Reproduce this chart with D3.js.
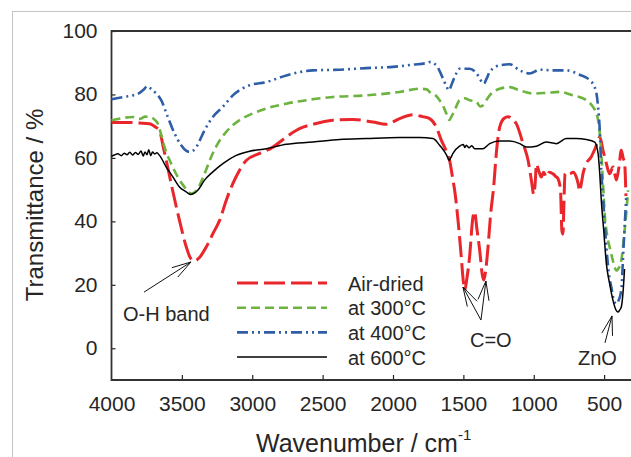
<!DOCTYPE html>
<html><head><meta charset="utf-8">
<script src="https://cdn.jsdelivr.net/npm/d3@7"></script>
<style>
html,body{margin:0;padding:0;background:#fff;}
svg{display:block;font-family:"Liberation Sans",Arial,sans-serif;}
</style></head>
<body>
<svg id="chart" width="631" height="457"></svg>
<script>
// ---- data: [wavenumber (cm-1), transmittance (%)] ----
const airDried = [[4000,71.2],[3900,71.2],[3800,71.0],[3730,70.8],[3690,69.8],[3659,68.5],[3630,63],[3611,59.2],[3566,49.8],[3517,40.3],[3469,32],[3440,28.5],[3410,27.5],[3375,28.6],[3327,31.9],[3280,36.1],[3232,40.3],[3185,46.6],[3138,51.9],[3090,56.1],[3043,59.2],[2948,61.4],[2853,63.4],[2758,66.6],[2664,69.2],[2569,70.6],[2427,71.9],[2285,72.1],[2143,71.3],[2048,70.6],[1953,72.4],[1858,73.6],[1790,73.0],[1740,72.4],[1692,69.7],[1657,65.6],[1620,62],[1598,59.2],[1574,53],[1562,49.8],[1538,40.3],[1515,28.8],[1500,21],[1490,18.5],[1475,22],[1456,28.8],[1432,41.4],[1420,43],[1405,38],[1384,30.9],[1365,23],[1355,21.5],[1340,25],[1325,31.9],[1306,42.4],[1285,50.8],[1266,61.4],[1242,69.7],[1210,72.5],[1183,73],[1150,72.2],[1124,70.8],[1076,64.5],[1040,59.2],[1017,53],[1000,48.5],[990,52],[981,58],[965,56],[946,54],[930,55.5],[911,54],[890,55.5],[864,55],[840,54],[828,53.5],[810,50],[800,37],[792,36],[786,45],[778,55],[760,55.5],[745,55],[720,55.5],[698,54],[685,52],[674,49.5],[662,52],[650,55],[627,58.2],[592,60.3],[560,63.4],[531,66.6],[508,62.4],[484,58.2],[461,55],[437,57.1],[413,53],[395,57],[378,62.4],[365,60],[354,58.2],[345,48]];
const at300 = [[4000,71.9],[3930,72.5],[3851,72.9],[3800,72.3],[3760,73],[3730,72.9],[3700,72.3],[3671,70.8],[3645,67],[3623,63.4],[3576,58.2],[3529,54],[3481,50.8],[3450,49.2],[3434,48.8],[3410,49.2],[3387,50.3],[3339,55],[3292,60.3],[3245,64.5],[3185,68.2],[3090,71.9],[2996,74],[2900,75.6],[2758,77.1],[2616,78.2],[2427,79.2],[2190,79.7],[1953,80.8],[1811,81.8],[1760,81.6],[1740,80.8],[1700,79.8],[1669,78.2],[1640,76],[1621,74],[1600,72],[1585,73],[1562,75],[1527,78.2],[1490,78.8],[1456,78.2],[1408,77.7],[1380,76.2],[1361,76.6],[1340,78],[1313,79.7],[1242,81.8],[1171,82.3],[1100,81.3],[1005,80.3],[911,80.5],[816,80.8],[721,79.7],[627,78.2],[579,76.1],[555,74],[543,71.9],[531,67.7],[520,61.4],[508,52],[496,42.4],[480,36],[461,31.9],[440,28],[425,25.5],[413,24.5],[400,25],[378,27.7],[354,37.2],[340,44],[330,49.8]];
const at400 = [[4000,78.5],[3900,79.3],[3848,79.7],[3800,80.5],[3777,81.3],[3742,82.6],[3720,81.8],[3694,80.8],[3647,78.2],[3600,72.9],[3552,67.7],[3505,64],[3470,62.3],[3446,61.9],[3420,62.3],[3398,63.4],[3339,68.7],[3280,72.9],[3209,76.1],[3138,79.7],[3019,82.9],[2900,83.9],[2758,86],[2569,87.6],[2379,87.8],[2190,88.3],[2001,88.7],[1858,89.4],[1751,90],[1740,90.2],[1692,89.2],[1670,87.5],[1645,85],[1620,82.5],[1602,81.3],[1585,83],[1562,85.5],[1527,88.1],[1456,88.1],[1396,86],[1370,84],[1354,83.4],[1335,85],[1313,87.1],[1242,89.2],[1171,89.5],[1100,87.6],[1029,86.6],[958,87.8],[864,87.6],[769,87.6],[674,86.2],[603,84.5],[567,82.3],[550,79],[543,76.1],[531,68.7],[520,56.1],[508,47.7],[484,31.9],[465,23],[449,19.3],[430,15],[413,14],[400,14.8],[378,18.3],[362,31.9],[343,47.7]];
const at600 = [[4000,60.5],[3980,60.9],[3955,61.3],[3930,60.7],[3910,61.5],[3890,61.0],[3870,61.8],[3850,60.9],[3830,61.7],[3810,61.1],[3790,62.2],[3775,60.6],[3762,61.9],[3748,61.0],[3735,62.6],[3722,60.7],[3708,61.9],[3694,61.2],[3678,61.6],[3659,60.8],[3611,57.1],[3564,54],[3517,50.8],[3469,49.3],[3440,48.5],[3420,48.7],[3387,49.8],[3339,53],[3280,55.6],[3209,58.2],[3114,60.8],[3019,62.1],[2900,62.9],[2758,64.3],[2569,65],[2379,65.8],[2190,66.1],[1953,66.4],[1811,66.4],[1716,66.1],[1669,64],[1633,61.9],[1615,60.5],[1602,59.2],[1590,60],[1574,61.4],[1527,63.7],[1500,64.2],[1490,63.3],[1479,64],[1460,63.2],[1440,63.8],[1420,62.9],[1361,62.9],[1313,64.5],[1242,65.3],[1171,65.3],[1100,64.5],[1053,63.4],[981,63.7],[911,65],[840,64.5],[769,66.1],[698,66.1],[627,65.8],[567,65],[543,61.4],[531,55],[520,46.6],[503,37.2],[484,26.6],[461,20.4],[437,15.1],[415,12],[401,11.4],[390,12],[378,13],[365,18],[355,25]];

const seriesNames = ["Air-dried","at 300°C","at 400°C","at 600°C"];
const xTicks = [4000,3500,3000,2500,2000,1500,1000,500];
const yTicks = [0,20,40,60,80,100];
const annotations = [
  {text:"O-H band", tx:3918, ty:8.6, arrows:[[3769,17.7,3435,27.2]]},
  {text:"C=O", tx:1453, ty:0.4, arrows:[[1375,8.9,1503,19.3],[1375,8.9,1340,21.2]]},
  {text:"ZnO", tx:686, ty:-5.2, arrows:[[494,1.7,444,10.2]]}
];

// ---- styles ----
const styles = [
  {data:airDried, color:"#e8262b", width:3,   dash:"21,6"},
  {data:at300,    color:"#6db33f", width:2.6, dash:"9,5"},
  {data:at400,    color:"#2e5ea8", width:2.6, dash:"11,4,2,4,2,4"},
  {data:at600,    color:"#000000", width:1.5, dash:null}
];

const svg = d3.select("#chart");
const x = d3.scaleLinear().domain([4000,0]).range([111.5,674.5]);
const y = d3.scaleLinear().domain([-10,100]).range([380,31]);

// outer border (cropped figure frame)
svg.append("rect").attr("x",12.5).attr("y",11.5).attr("width",700).attr("height",500)
  .attr("fill","none").attr("stroke","#c4c4c4").attr("stroke-width",1);

// axes
const ya = svg.append("g").attr("transform","translate(111.5,0)")
  .call(d3.axisLeft(y).tickValues(yTicks).tickSize(-4).tickPadding(14).tickFormat(d3.format("d")));
ya.select(".domain").remove();
ya.selectAll("line").attr("stroke","#222").attr("stroke-width",1.2);
ya.selectAll("text").attr("font-size",21).attr("fill","#262626")
  .attr("font-family","Liberation Sans, Arial, sans-serif").attr("dy","0.3em");

const xa = svg.append("g").attr("transform","translate(0,380)")
  .call(d3.axisBottom(x).tickValues(xTicks).tickSize(-5).tickPadding(16).tickFormat(d3.format("d")));
xa.select(".domain").remove();
xa.selectAll("line").attr("stroke","#222").attr("stroke-width",1.2);
xa.selectAll("text").attr("font-size",21).attr("fill","#262626")
  .attr("font-family","Liberation Sans, Arial, sans-serif");
xa.selectAll(".tick").filter(d=>d===4000).select("line").remove();

// frame
svg.append("path").attr("d",`M700,31H111.5V380H700`).attr("fill","none")
  .attr("stroke","#333").attr("stroke-width",1.8);

// series
const line = d3.line().x(d=>x(d[0])).y(d=>y(d[1])).curve(d3.curveMonotoneX);
styles.forEach(s=>{
  svg.append("path").datum(s.data).attr("d",line).attr("fill","none")
    .attr("stroke",s.color).attr("stroke-width",s.width)
    .attr("stroke-dasharray",s.dash).attr("stroke-linejoin","round");
});

// annotations
function arrow(x1,y1,x2,y2){
  const ang = Math.atan2(y2-y1,x2-x1), L=20, a=0.28;
  const g = svg.append("g").attr("stroke","#111").attr("stroke-width",1).attr("fill","none");
  g.append("line").attr("x1",x1).attr("y1",y1).attr("x2",x2).attr("y2",y2);
  [a,-a].forEach(t=>{
    g.append("line").attr("x1",x2-L*Math.cos(ang+t)).attr("y1",y2-L*Math.sin(ang+t))
      .attr("x2",x2).attr("y2",y2);
  });
}
annotations.forEach(an=>{
  svg.append("text").attr("x",x(an.tx)).attr("y",y(an.ty)).attr("font-size",20)
    .attr("fill","#262626").text(an.text);
  an.arrows.forEach(a=>arrow(x(a[0]),y(a[1]),x(a[2]),y(a[3])));
});

// legend
const lg = svg.append("g");
seriesNames.forEach((n,i)=>{
  const yy = 283 + i*24.7, s = styles[i];
  lg.append("line").attr("x1",237).attr("x2",327).attr("y1",yy).attr("y2",yy)
    .attr("stroke",s.color).attr("stroke-width",s.width).attr("stroke-dasharray",s.dash);
  lg.append("text").attr("x",348).attr("y",yy+7.5).attr("font-size",20).attr("fill","#262626").text(n);
});

// axis titles
svg.append("text").attr("transform","translate(43,205) rotate(-90)").attr("text-anchor","middle")
  .attr("font-size",24).attr("fill","#262626").text("Transmittance / %");
const xt = svg.append("text").attr("x",256).attr("y",451.5).attr("font-size",25).attr("fill","#262626");
xt.append("tspan").text("Wavenumber / cm");
xt.append("tspan").attr("font-size",15).attr("dy",-12).text("-1");
</script>
</body></html>
